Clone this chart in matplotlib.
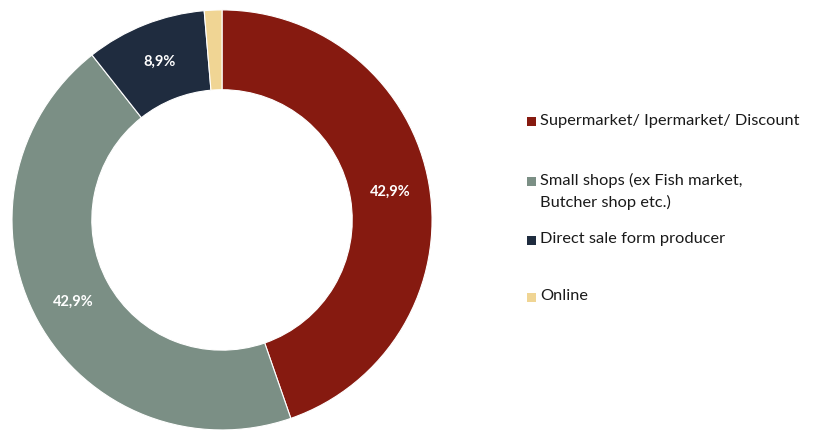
import numpy as np
import matplotlib.pyplot as plt
from matplotlib.patches import Rectangle

plt.rcParams['font.family'] = ['Lato', 'DejaVu Sans']

# Share of purchases by channel (%)
channels = ['Supermarket/ Ipermarket/ Discount',
            'Small shops (ex Fish market,\nButcher shop etc.)',
            'Direct sale form producer',
            'Online']
shares = [42.9, 42.9, 8.9, 1.3]
colors = ['#861a10', '#7b8f85', '#1f2c3f', '#f0d594']

fig = plt.figure(figsize=(8.22, 4.30), dpi=100)
ax = fig.add_axes([0.0146, 0.0, 0.511, 0.977])

wedges, _ = ax.pie(shares, colors=colors, startangle=90, counterclock=False,
                   radius=1.0, wedgeprops=dict(width=0.38, edgecolor='white', linewidth=0.8))

# percentage labels inside the ring (no label for the tiny online slice)
for w, v in zip(wedges, shares):
    if v < 5:
        continue
    ang = np.deg2rad((w.theta1 + w.theta2) / 2)
    r = 0.81
    ax.text(r * np.cos(ang), r * np.sin(ang), f'{v:.1f}%'.replace('.', ','),
            ha='center', va='center', color='white', fontsize=10.5, fontweight='bold')

ax.set_xlim(-1, 1)
ax.set_ylim(-1, 1)
ax.set_aspect('equal')
ax.axis('off')

# legend drawn by hand so the row gaps follow the original layout
rows_y = [122, 181, 240, 297]
for name, col, y in zip(channels, colors, rows_y):
    fy = 1 - y / 430
    fig.patches.append(Rectangle((527 / 822, fy - 4.5 / 430), 9 / 822, 9 / 430,
                                 facecolor=col, edgecolor='none',
                                 transform=fig.transFigure))
    fig.text(540 / 822, fy + 8 / 430, name, ha='left', va='top',
             fontsize=11.8, color='#1a1a1a', linespacing=1.6)

fig.savefig('out.png', dpi=100, facecolor='white')
